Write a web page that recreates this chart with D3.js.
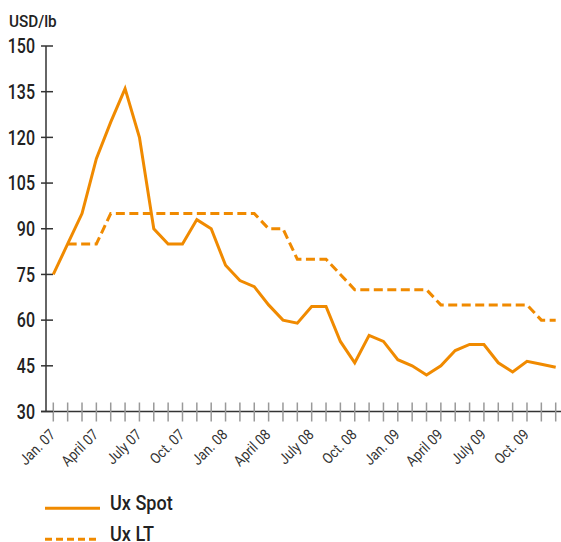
<!DOCTYPE html>
<html>
<head>
<meta charset="utf-8">
<script src="https://cdn.jsdelivr.net/npm/d3@7"></script>
<style>
  body { margin: 0; background: #fff; }
  text { font-family: Roboto, "Liberation Sans", sans-serif; }
</style>
</head>
<body>
<svg></svg>
<script>
const months = ["Jan. 07", "Feb. 07", "March 07", "April 07", "May 07", "June 07", "July 07", "Aug. 07", "Sept. 07", "Oct. 07", "Nov. 07", "Dec. 07",
    "Jan. 08", "Feb. 08", "March 08", "April 08", "May 08", "June 08", "July 08", "Aug. 08", "Sept. 08", "Oct. 08", "Nov. 08", "Dec. 08",
    "Jan. 09", "Feb. 09", "March 09", "April 09", "May 09", "June 09", "July 09", "Aug. 09", "Sept. 09", "Oct. 09", "Nov. 09", "Dec. 09"];

const spot = [75, 85, 95, 113, 125, 136, 120, 90, 85, 85, 93, 90,
    78, 73, 71, 65, 60, 59, 64.5, 64.5, 53, 46, 55, 53,
    47, 45, 42, 45, 50, 52, 52, 46, 43, 46.5, 45.5, 44.5];

// long term price starts in Feb. 07
const lt = [null, 85, 85, 85, 95, 95, 95, 95, 95, 95, 95, 95,
    95, 95, 95, 90, 90, 80, 80, 80, 75, 70, 70, 70,
    70, 70, 70, 65, 65, 65, 65, 65, 65, 65, 60, 60];

const yTicks = [30, 45, 60, 75, 90, 105, 120, 135, 150];
const xLabels = ["Jan. 07", "April 07", "July 07", "Oct. 07", "Jan. 08", "April 08", "July 08", "Oct. 08", "Jan. 09", "April 09", "July 09", "Oct. 09"];

const series = [
    { name: "Ux Spot", values: spot, dash: null, legendDash: null },
    { name: "Ux LT", values: lt, dash: "9,4.5", legendDash: "7,4" }
];

const width = 561, height = 542;
const orange = "#f08a00";

const svg = d3.select("svg")
    .attr("width", width)
    .attr("height", height);

const x = d3.scalePoint()
    .domain(months)
    .range([53.3, 555.7]);

const y = d3.scaleLinear()
    .domain([30, 150])
    .range([411.5, 46]);

// x axis: line, monthly ticks, rotated quarter labels
const gx = svg.append("g")
    .attr("transform", `translate(0,${y(30)})`);

gx.append("line")
    .attr("x1", 41).attr("x2", width)
    .attr("stroke", "#333")
    .attr("stroke-width", 1.5);

gx.selectAll(".tick")
    .data(months).enter().append("line")
    .attr("class", "tick")
    .attr("x1", d => x(d)).attr("x2", d => x(d))
    .attr("y1", -9).attr("y2", 10)
    .attr("stroke", "#999")
    .attr("stroke-width", 1.5);

gx.selectAll(".lab")
    .data(xLabels).enter().append("text")
    .attr("class", "lab")
    .attr("transform", d => `translate(${x(d) + 3},${24}) rotate(-45) scale(0.88,1)`)
    .attr("text-anchor", "end")
    .attr("font-size", 15)
    .attr("fill", "#333")
    .text(d => d);

// y axis
const gy = svg.append("g");

gy.append("line")
    .attr("x1", 46).attr("x2", 46)
    .attr("y1", y(150)).attr("y2", y(30))
    .attr("stroke", "#333")
    .attr("stroke-width", 1.5);

gy.selectAll(".ytick")
    .data(yTicks).enter().append("line")
    .attr("class", "ytick")
    .attr("x1", 41).attr("x2", 53)
    .attr("y1", d => y(d)).attr("y2", d => y(d))
    .attr("stroke", "#333")
    .attr("stroke-width", 1.5);

gy.selectAll(".ylab")
    .data(yTicks).enter().append("text")
    .attr("class", "ylab")
    .attr("transform", d => `translate(35,${y(d)}) scale(0.8,1)`)
    .attr("dy", "0.36em")
    .attr("text-anchor", "end")
    .attr("font-size", 20)
    .attr("font-weight", 500)
    .attr("fill", "#222")
    .text(d => d);

svg.append("text")
    .attr("transform", "translate(9,27) scale(0.9,1)")
    .attr("font-size", 17)
    .attr("font-weight", 500)
    .attr("fill", "#222")
    .text("USD/lb");

// lines
const line = d3.line()
    .defined(d => d.v != null)
    .x(d => x(d.m))
    .y(d => y(d.v));

svg.append("g")
    .selectAll("path")
    .data(series).enter().append("path")
    .attr("fill", "none")
    .attr("stroke", orange)
    .attr("stroke-width", 3)
    .attr("stroke-dasharray", d => d.dash)
    .attr("d", d => line(d.values.map((v, i) => ({ m: months[i], v: v }))));

// legend
const legend = svg.append("g")
    .selectAll("g")
    .data(series).enter().append("g")
    .attr("transform", (d, i) => `translate(0,${508.3 + i * 31})`);

legend.append("line")
    .attr("x1", 45).attr("x2", 100)
    .attr("stroke", orange)
    .attr("stroke-width", 3)
    .attr("stroke-dasharray", d => d.legendDash);

legend.append("text")
    .attr("transform", "translate(110,2) scale(0.86,1)")
    .attr("font-size", 21)
    .attr("font-weight", 500)
    .attr("fill", "#222")
    .text(d => d.name);
</script>
</body>
</html>
